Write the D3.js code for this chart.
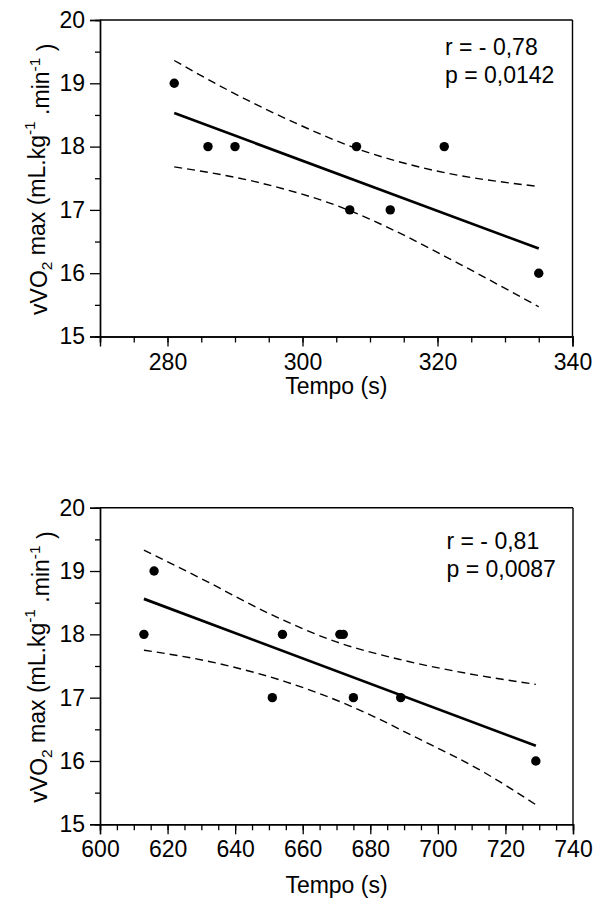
<!DOCTYPE html>
<html>
<head>
<meta charset="utf-8">
<script src="https://cdn.jsdelivr.net/npm/d3@7"></script>
<style>
  html, body { margin: 0; padding: 0; background: #fff; }
  svg { display: block; }
  text { font-family: "Liberation Sans", Arial, sans-serif; fill: #000; }
</style>
</head>
<body>
<svg id="chart" width="601" height="899"></svg>
<script>
// ---------- Panel 1 data ----------
const p1TimeS = [281, 286, 290, 307, 308, 313, 321, 335];
const p1Vvo2 = [19, 18, 18, 17, 18, 17, 18, 16];
const p1FitX = [281, 335];
const p1FitY = [18.53, 16.39];
const p1UpperX = [281, 289, 299, 308, 318, 335];
const p1UpperY = [19.36, 18.89, 18.37, 17.97, 17.66, 17.37];
const p1LowerX = [281, 294, 306.5, 313.5, 323, 335];
const p1LowerY = [17.68, 17.42, 17.01, 16.68, 16.16, 15.47];
const p1Stats = ["r = - 0,78", "p = 0,0142"];
const p1XTickLabels = [280, 300, 320, 340];

// ---------- Panel 2 data ----------
const p2TimeS = [613, 616, 651, 654, 671, 672, 675, 689, 729];
const p2Vvo2 = [18, 19, 17, 18, 18, 18, 17, 17, 16];
const p2FitX = [613, 729];
const p2FitY = [18.56, 16.24];
const p2UpperX = [613, 630, 650, 670, 689, 709, 729];
const p2UpperY = [19.33, 18.88, 18.33, 17.88, 17.60, 17.38, 17.21];
const p2LowerX = [613, 635, 655, 674.5, 694, 714, 729];
const p2LowerY = [17.75, 17.54, 17.25, 16.86, 16.36, 15.81, 15.31];
const p2Stats = ["r = - 0,81", "p = 0,0087"];
const p2XTickLabels = [600, 620, 640, 660, 680, 700, 720, 740];

// ---------- shared axis ----------
const yTickLabels = [15, 16, 17, 18, 19, 20];
const yMinorTicks = [15.5, 16.5, 17.5, 18.5, 19.5];
const xTitle = "Tempo (s)";

const svg = d3.select("#chart");
const FONT = 23;
const SMALL = 15.5;

function zip(a, b) { return a.map((v, i) => [v, b[i]]); }

function drawPanel(cfg) {
  const g = svg.append("g");
  const x = d3.scaleLinear().domain(cfg.xDomain).range([cfg.left, cfg.right]);
  const y = d3.scaleLinear().domain([15, 20]).range([cfg.bottom, cfg.top]);

  // frame (top and right)
  g.append("line").attr("x1", cfg.left).attr("x2", cfg.right).attr("y1", cfg.top).attr("y2", cfg.top)
    .attr("stroke", "#000").attr("stroke-width", 1.4);
  g.append("line").attr("x1", cfg.right).attr("x2", cfg.right).attr("y1", cfg.top).attr("y2", cfg.bottom)
    .attr("stroke", "#000").attr("stroke-width", 1.4);

  // x axis minor
  const xMinor = d3.range(cfg.xDomain[0], cfg.xDomain[1] + 0.001, 5);
  const gxMinor = g.append("g").attr("transform", `translate(0,${cfg.bottom})`)
    .call(d3.axisBottom(x).tickValues(xMinor).tickSize(6).tickFormat(""));
  // x axis major
  const gx = g.append("g").attr("transform", `translate(0,${cfg.bottom})`)
    .call(d3.axisBottom(x).tickValues(cfg.xLabels).tickSize(10).tickPadding(6).tickFormat(d3.format("d")));
  // y axis minor
  const gyMinor = g.append("g").attr("transform", `translate(${cfg.left},0)`)
    .call(d3.axisLeft(y).tickValues(yMinorTicks).tickSize(5).tickFormat(""));
  // y axis major
  const gy = g.append("g").attr("transform", `translate(${cfg.left},0)`)
    .call(d3.axisLeft(y).tickValues(yTickLabels).tickSize(10).tickPadding(5).tickFormat(d3.format("d")));

  [gxMinor, gx, gyMinor, gy].forEach(a => {
    a.selectAll("path.domain").attr("stroke", "#000").attr("stroke-width", 1.4);
    a.selectAll(".tick line").attr("stroke", "#000").attr("stroke-width", 1.3);
    a.selectAll(".tick text").attr("font-size", FONT)
      .attr("font-family", "Liberation Sans, Arial, sans-serif").attr("fill", "#000");
  });
  gx.selectAll(".tick text").attr("dy", "0.74em");

  // confidence bands
  const line = d3.line().x(d => x(d[0])).y(d => y(d[1])).curve(d3.curveMonotoneX);
  [zip(cfg.upX, cfg.upY), zip(cfg.loX, cfg.loY)].forEach(pts => {
    g.append("path").attr("d", line(pts)).attr("fill", "none")
      .attr("stroke", "#000").attr("stroke-width", 1.4).attr("stroke-dasharray", "8,5");
  });

  // regression line
  g.append("path").attr("d", d3.line().x(d => x(d[0])).y(d => y(d[1]))(zip(cfg.fitX, cfg.fitY)))
    .attr("fill", "none").attr("stroke", "#000").attr("stroke-width", 2.7);

  // points
  g.selectAll("circle.pt").data(zip(cfg.px, cfg.py)).enter().append("circle")
    .attr("class", "pt").attr("cx", d => x(d[0])).attr("cy", d => y(d[1])).attr("r", 4.7)
    .attr("fill", "#000");

  // stats text
  cfg.stats.forEach((s, i) => {
    g.append("text").attr("x", cfg.statX).attr("y", cfg.statY + i * 27.7)
      .attr("font-size", FONT).text(s);
  });

  // x title
  g.append("text").attr("x", (cfg.left + cfg.right) / 2).attr("y", cfg.bottom + cfg.xTitleOff)
    .attr("text-anchor", "middle").attr("font-size", FONT).text(xTitle);

  // y title
  const yt = g.append("text")
    .attr("transform", `translate(47,${(cfg.top + cfg.bottom) / 2 + 1}) rotate(-90)`)
    .attr("text-anchor", "middle").attr("font-size", FONT);
  yt.append("tspan").text("vVO");
  yt.append("tspan").attr("font-size", SMALL).attr("dy", "0.3em").text("2");
  yt.append("tspan").attr("dy", "-0.3em").text(" max (mL.kg");
  yt.append("tspan").attr("font-size", SMALL).attr("dy", "-0.6em").text("-1");
  yt.append("tspan").attr("dy", "0.6em").text(" .min");
  yt.append("tspan").attr("font-size", SMALL).attr("dy", "-0.6em").text("-1");
  yt.append("tspan").attr("dy", "0.6em").text(" )");
}

drawPanel({
  left: 100, right: 572.5, top: 20, bottom: 336.5,
  xDomain: [270, 340], xLabels: p1XTickLabels,
  px: p1TimeS, py: p1Vvo2, fitX: p1FitX, fitY: p1FitY,
  upX: p1UpperX, upY: p1UpperY, loX: p1LowerX, loY: p1LowerY,
  stats: p1Stats, statX: 445, statY: 55, xTitleOff: 57
});

drawPanel({
  left: 100, right: 573, top: 507.7, bottom: 824.3,
  xDomain: [600, 740], xLabels: p2XTickLabels,
  px: p2TimeS, py: p2Vvo2, fitX: p2FitX, fitY: p2FitY,
  upX: p2UpperX, upY: p2UpperY, loX: p2LowerX, loY: p2LowerY,
  stats: p2Stats, statX: 446.5, statY: 549, xTitleOff: 69
});
</script>
</body>
</html>
